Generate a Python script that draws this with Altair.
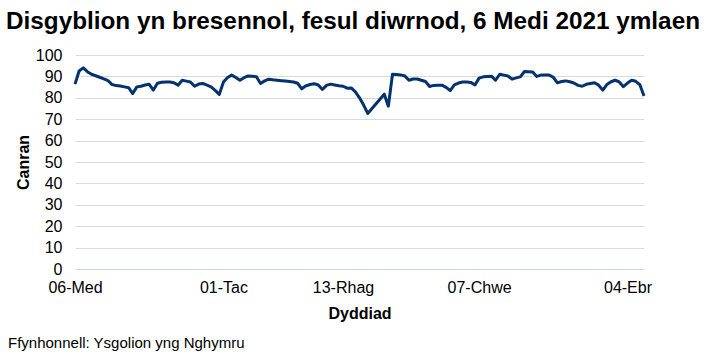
import altair as alt
import pandas as pd

# Percentage of pupils present, one value per school day from 6 Sep 2021 (None = no data, line joins across)
present = [
    86.4, 92.5, 94.0, 92.2, 91.0, 90.3, 89.6, 88.8, 88.0, 86.2,
    85.7, 85.5, 85.1, 84.7, 82.0, 85.1, 85.4, 86.0, 86.3, 83.6,
    86.8, 87.3, 87.4, 87.4, 87.0, 85.9, 88.2, 87.8, 87.4, 85.4,
    86.4, 86.7, 85.9, 85.1, 83.5, 81.6, 87.4, 89.5, 90.6, 89.5,
    88.2, 89.4, 90.2, 90.1, 89.8, 86.7, 87.9, 88.7, 88.4, 88.2,
    88.0, 87.8, 87.6, 87.4, 86.8, 84.2, 85.6, 86.2, 86.6, 86.0,
    83.9, 85.8, 86.4, 86.0, 85.6, 85.4, 84.5, 84.6, 82.8, 80.0,
    76.6, 72.7, None, None, None, 81.7, 76.1, 91.0, 90.9, 90.7,
    90.2, 88.2, 88.8, 88.8, 88.2, 87.6, 85.3, 85.8, 85.9, 85.9,
    84.9, 83.4, 86.0, 86.9, 87.4, 87.4, 87.2, 86.0, 89.2, 89.8,
    90.0, 90.1, 88.2, 91.0, 90.6, 90.2, 88.7, 89.3, 89.8, 92.3,
    92.2, 92.1, 90.0, 90.6, 90.6, 90.6, 89.6, 87.0, 87.6, 87.9,
    87.5, 86.9, 85.8, 85.4, 86.3, 86.7, 87.0, 85.9, 83.6, 86.2,
    87.5, 88.2, 87.4, 85.2, 86.9, 88.2, 87.7, 86.1, 80.8,
]

tick_days = [0, 36, 65, 98, 134]
tick_labels = ["06-Med", "01-Tac", "13-Rhag", "07-Chwe", "04-Ebr"]

title_text = "Disgyblion yn bresennol, fesul diwrnod, 6 Medi 2021 ymlaen"
source_text = "Ffynhonnell: Ysgolion yng Nghymru"

df = pd.DataFrame({"day": list(range(len(present))), "pct": present})

label_expr = "".join(
    f"datum.value == {d} ? '{l}' : " for d, l in zip(tick_days, tick_labels)
) + "''"

FONT = "Liberation Sans"

line = (
    alt.Chart(df)
    .transform_filter("isValid(datum.pct)")
    .mark_line(color="#03336E", strokeWidth=3, strokeJoin="round")
    .encode(
        x=alt.X(
            "day:Q",
            scale=alt.Scale(domain=[0, len(present) - 1], nice=False, zero=False),
            axis=alt.Axis(
                title="Dyddiad",
                values=tick_days,
                labelExpr=label_expr,
                grid=False,
                ticks=False,
                tickSize=0,
                domainColor="#C5D9F1",
                domainWidth=1,
                labelPadding=10,
                labelFontSize=16,
                labelFont=FONT,
                labelColor="#000000",
                labelFlush=False,
                labelOverlap=False,
                titleFont=FONT,
                titleFontSize=16,
                titleFontWeight="bold",
                titleColor="#000000",
                titlePadding=10,
                zindex=1,
            ),
        ),
        y=alt.Y(
            "pct:Q",
            scale=alt.Scale(domain=[0, 100], nice=False),
            axis=alt.Axis(
                title="Canran",
                values=list(range(0, 101, 10)),
                domain=False,
                ticks=False,
                tickSize=0,
                gridColor="#D9D9D9",
                gridWidth=1,
                labelPadding=13,
                labelFontSize=16,
                labelFont=FONT,
                labelColor="#000000",
                titleFont=FONT,
                titleFontSize=16,
                titleFontWeight="bold",
                titleColor="#000000",
                titlePadding=4,
            ),
        ),
    )
)

source = (
    alt.Chart(pd.DataFrame({"t": [source_text]}))
    .mark_text(align="left", baseline="alphabetic", fontSize=15, font=FONT, color="#000000")
    .encode(x=alt.value(-67), y=alt.value(293), text="t:N")
)

chart = (
    alt.layer(line, source)
    .properties(
        width=569,
        height=214,
        padding={"left": 75, "top": 55, "right": 65, "bottom": 91},
        autosize=alt.AutoSizeParams(type="none"),
        title=alt.TitleParams(
            text=title_text,
            anchor="start",
            font=FONT,
            fontSize=24.3,
            fontWeight="bold",
            color="#000000",
            offset=13,
            dx=-2,
        ),
    )
    .configure_view(stroke=None)
)

chart.save("out.html", embed_options={"renderer": "svg", "actions": False})
